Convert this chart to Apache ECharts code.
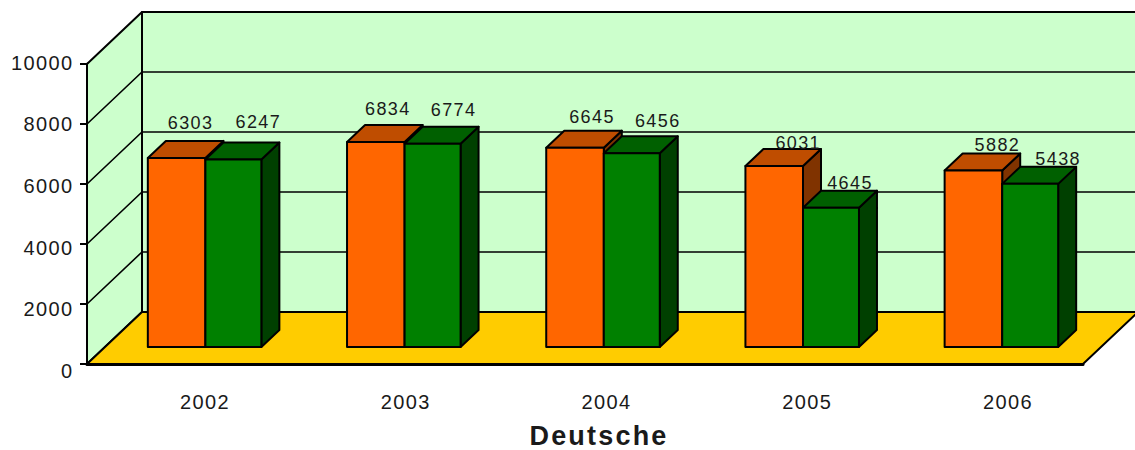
<!DOCTYPE html>
<html>
<head>
<meta charset="utf-8">
<title>Deutsche</title>
<style>
  html, body { margin: 0; padding: 0; background: #fff; }
  #chart { width: 1135px; height: 450px; }
  /* echarts has no letter spacing option, the svg text picks this up */
  #chart text { letter-spacing: 1.4px; }
  #chart text[style*="bold"] { letter-spacing: 2.2px; }
</style>
<script src="https://cdn.jsdelivr.net/npm/echarts@6/dist/echarts.min.js"></script>
</head>
<body>
<div id="chart"></div>
<script>
  const categories = ['2002', '2003', '2004', '2005', '2006']
  const orangeValues = [6303, 6834, 6645, 6031, 5882]
  const greenValues = [6247, 6774, 6456, 4645, 5438]
  const yTicks = [0, 2000, 4000, 6000, 8000, 10000]

  // where each value label sits, relative to the middle of the bar's top front edge
  const orangeLabelShift = [[14, -35], [12, -33], [17, -31], [24, -23], [24, -26]]
  const greenLabelShift = [[25, -38], [21, -34], [26, -32], [19, -25], [28, -25]]

  const chart = echarts.init(document.getElementById('chart'), null, { renderer: 'svg' })

  const INK = '#000'
  const TEXT = '#1a1a1a'
  const FONT = '"Liberation Sans", Arial, sans-serif'
  // depth of the whole box and of a single bar
  const BOX_DX = 55
  const BOX_DY = -52
  const BAR_DX = 18
  const BAR_DY = -17
  const BAR_WIDTH = 0.285   // share of a category band
  const SPLIT_NUDGE = 0.8   // orange is drawn a touch wider than green

  function poly (points, fill, width) {
    return {
      type: 'polygon',
      shape: { points: points },
      style: { fill: fill, stroke: INK, lineWidth: width, lineJoin: 'round' }
    }
  }

  function renderBox (params, api) {
    const box = params.coordSys
    const left = box.x
    const right = box.x + box.width
    const bottom = box.y + box.height
    const top = box.y
    const children = [
      // back wall
      poly([[left + BOX_DX, top + BOX_DY], [right + BOX_DX, top + BOX_DY], [right + BOX_DX, bottom + BOX_DY], [left + BOX_DX, bottom + BOX_DY]], '#ccffcc', 2),
      // left wall
      poly([[left, top], [left + BOX_DX, top + BOX_DY], [left + BOX_DX, bottom + BOX_DY], [left, bottom]], '#ccffcc', 2)
    ]
    yTicks.slice(1, -1).forEach(function (tick) {
      const y = api.coord([0, tick])[1]
      children.push({
        type: 'polyline',
        shape: { points: [[left, y], [left + BOX_DX, y + BOX_DY], [right + BOX_DX, y + BOX_DY]] },
        style: { fill: null, stroke: INK, lineWidth: 1.6 }
      })
    })
    // floor
    children.push(poly([[left, bottom], [left + BOX_DX, bottom + BOX_DY], [right + BOX_DX, bottom + BOX_DY], [right, bottom]], '#ffcc00', 2))
    return { type: 'group', children: children }
  }

  function barRenderer (side, front, topFace, sideFace, shifts) {
    return function (params, api) {
      const i = api.value(0)
      const v = api.value(1)
      const band = api.size([1, 0])[0]
      const w = band * BAR_WIDTH
      const mid = api.coord([i, 0])[0] + BAR_DX
      const x0 = side < 0 ? mid - w : mid + SPLIT_NUDGE
      const x1 = side < 0 ? mid + SPLIT_NUDGE : mid + w
      const y0 = api.coord([i, 0])[1] + BAR_DY
      const y1 = api.coord([i, v])[1] + BAR_DY
      const shift = shifts[i]
      return {
        type: 'group',
        children: [
          poly([[x1, y1], [x1 + BAR_DX, y1 + BAR_DY], [x1 + BAR_DX, y0 + BAR_DY], [x1, y0]], sideFace, 2),
          poly([[x0, y1], [x0 + BAR_DX, y1 + BAR_DY], [x1 + BAR_DX, y1 + BAR_DY], [x1, y1]], topFace, 2),
          poly([[x0, y1], [x1, y1], [x1, y0], [x0, y0]], front, 2),
          {
            type: 'text',
            style: {
              x: (x0 + x1) / 2 + shift[0],
              y: y1 + shift[1],
              text: String(v),
              fill: TEXT,
              font: '18px ' + FONT,
              align: 'center',
              verticalAlign: 'middle'
            }
          }
        ]
      }
    }
  }

  let options = {
    animation: false,
    backgroundColor: '#fff',
    title: {
      text: 'Deutsche',
      left: 594,
      top: 417,
      textAlign: 'center',
      textStyle: { fontFamily: FONT, fontSize: 27, fontWeight: 'bold', color: TEXT }
    },
    grid: [
      { left: 87, top: 64, width: 996, height: 300 },
      // tick labels are spaced a little wider than the box itself
      { left: 104.6, top: 62.5, width: 1003.75, height: 308.5 }
    ],
    xAxis: [
      {
        type: 'category',
        gridIndex: 0,
        data: categories,
        axisLine: { lineStyle: { color: INK, width: 3 } },
        axisTick: { show: false },
        axisLabel: { show: false }
      },
      {
        type: 'category',
        gridIndex: 1,
        data: categories,
        axisLine: { show: false },
        axisTick: { show: false },
        axisLabel: { margin: 21, fontFamily: FONT, fontSize: 20, color: TEXT }
      }
    ],
    yAxis: [
      {
        type: 'value',
        gridIndex: 0,
        min: 0,
        max: 10000,
        interval: 2000,
        splitLine: { show: false },
        axisLine: { show: true, lineStyle: { color: INK, width: 3 } },
        axisTick: { show: true, length: 7, lineStyle: { color: INK, width: 2 } },
        axisLabel: { show: false }
      },
      {
        type: 'value',
        gridIndex: 1,
        position: 'left',
        offset: 0,
        min: 0,
        max: 10000,
        interval: 2000,
        splitLine: { show: false },
        axisLine: { show: false },
        axisTick: { show: false },
        axisLabel: { margin: 31, fontFamily: FONT, fontSize: 20, color: TEXT, formatter: (v) => String(v) }
      }
    ],
    series: [
      {
        type: 'custom',
        xAxisIndex: 0,
        yAxisIndex: 0,
        clip: false,
        silent: true,
        z: 1,
        data: [[0, 0]],
        renderItem: renderBox
      },
      {
        name: 'orange',
        type: 'custom',
        xAxisIndex: 0,
        yAxisIndex: 0,
        clip: false,
        z: 2,
        data: orangeValues.map((v, i) => [i, v]),
        renderItem: barRenderer(-1, '#ff6600', '#bf4d00', '#803300', orangeLabelShift)
      },
      {
        name: 'green',
        type: 'custom',
        xAxisIndex: 0,
        yAxisIndex: 0,
        clip: false,
        z: 3,
        data: greenValues.map((v, i) => [i, v]),
        renderItem: barRenderer(1, '#008000', '#006000', '#004000', greenLabelShift)
      },
      {
        // keeps the label axes alive
        type: 'custom',
        xAxisIndex: 1,
        yAxisIndex: 1,
        silent: true,
        data: [],
        renderItem: function () { return null }
      }
    ]
  }
  chart.setOption(options)
</script>
</body>
</html>
